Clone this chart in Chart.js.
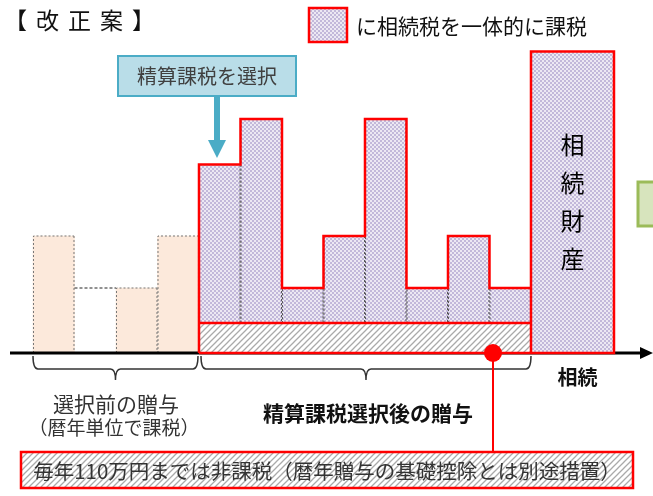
<!DOCTYPE html>
<html>
<head>
<meta charset="utf-8">
<script src="https://cdn.jsdelivr.net/npm/chart.js@4.4.1/dist/chart.umd.min.js"></script>
<style>
  html, body { margin: 0; padding: 0; background: #fff; }
  #wrap { position: relative; width: 653px; height: 496px; }
</style>
</head>
<body>
<div id="wrap"><canvas id="scheme"></canvas></div>
<script>
// values (arbitrary height units)
const preGifts = [9, 0, 5, 9];                      // 選択前の贈与（暦年）
const postGifts = [14.5, 18, 5, 9, 18, 5, 9, 5];    // 精算課税選択後の贈与
const estateValue = 23.2;                           // 相続財産
const exemption = 2.3;                              // 毎年110万円の非課税枠

const preStart = 0, postStart = preGifts.length, estateStart = postStart + postGifts.length;
const estateSpan = 2;

const FONT = '"Noto Sans CJK JP", "Noto Sans", sans-serif';

// patterns
function checker() {
  const c = document.createElement('canvas');
  c.width = 4; c.height = 4;
  const g = c.getContext('2d');
  g.fillStyle = '#ece8f3'; g.fillRect(0, 0, 4, 4);
  g.fillStyle = '#c2b8da'; g.fillRect(0, 0, 2, 2); g.fillRect(2, 2, 2, 2);
  return g.createPattern(c, 'repeat');
}
function hatch() {
  const c = document.createElement('canvas');
  c.width = 6; c.height = 6;
  const g = c.getContext('2d');
  g.fillStyle = '#fff'; g.fillRect(0, 0, 6, 6);
  g.strokeStyle = '#aaaaaa'; g.lineWidth = 1.3;
  g.beginPath();
  g.moveTo(-1, 7); g.lineTo(7, -1);
  g.moveTo(-1, 1); g.lineTo(1, -1);
  g.moveTo(5, 7); g.lineTo(7, 5);
  g.stroke();
  return g.createPattern(c, 'repeat');
}
const purple = checker();
const stripes = hatch();

// outline of the jointly taxed area
const outline = [{x: postStart, y: 0}];
postGifts.forEach((v, i) => {
  outline.push({x: postStart + i, y: v}, {x: postStart + i + 1, y: v});
});
outline.push({x: estateStart, y: estateValue}, {x: estateStart + estateSpan, y: estateValue},
  {x: estateStart + estateSpan, y: 0}, {x: postStart, y: 0}, {x: postStart, y: null},
  {x: postStart, y: exemption}, {x: estateStart, y: exemption}, {x: estateStart, y: null},
  {x: estateStart, y: 0}, {x: estateStart, y: postGifts[postGifts.length - 1]});

// dashed level where no gift was made
const gapLine = [];
preGifts.forEach((v, i) => {
  if (v === 0) {
    const lvl = preGifts[i + 1];
    gapLine.push({x: preStart + i, y: lvl}, {x: preStart + i + 1, y: lvl}, {x: preStart + i + 1, y: null});
  }
});

const barOpts = {type: 'bar', grouped: false, barPercentage: 1, categoryPercentage: 1, borderWidth: 0};

const datasets = [
  {type: 'line', data: outline, borderColor: '#ff0000', borderWidth: 2.5, pointRadius: 0,
   borderJoinStyle: 'miter', tension: 0, spanGaps: false},
  {type: 'line', data: gapLine, borderColor: '#222', borderWidth: 1, borderDash: [3, 2],
   pointRadius: 0, spanGaps: false},
  Object.assign({}, barOpts, {data: postGifts.map((v, i) => ({x: postStart + i + 0.5, y: [exemption, v]})),
   backgroundColor: purple}),
  Object.assign({}, barOpts, {data: Array.from({length: estateSpan}, (_, i) => ({x: estateStart + i + 0.5, y: [0, estateValue]})),
   backgroundColor: purple}),
  Object.assign({}, barOpts, {data: postGifts.map((v, i) => ({x: postStart + i + 0.5, y: [0, exemption]})),
   backgroundColor: stripes}),
  Object.assign({}, barOpts, {data: preGifts.map((v, i) => ({x: preStart + i + 0.5, y: v})),
   backgroundColor: '#fce9db'})
];
const POST_IDX = 2, PRE_IDX = 5;

function dashedEdges(ctx, el, color, top) {
  const l = el.x - el.width / 2, r = el.x + el.width / 2;
  ctx.save();
  ctx.strokeStyle = color; ctx.lineWidth = 1; ctx.setLineDash([2, 2]);
  ctx.beginPath();
  ctx.moveTo(l + 0.5, el.base); ctx.lineTo(l + 0.5, el.y);
  if (top) ctx.lineTo(r - 0.5, el.y);
  ctx.moveTo(r - 0.5, el.y); ctx.lineTo(r - 0.5, el.base);
  ctx.stroke();
  ctx.restore();
}

function brace(ctx, x1, x2, y0, y1, tip) {
  const xm = (x1 + x2) / 2, r = 5;
  ctx.beginPath();
  ctx.moveTo(x1, y0);
  ctx.quadraticCurveTo(x1, y1, x1 + r, y1);
  ctx.lineTo(xm - r, y1);
  ctx.quadraticCurveTo(xm, y1, xm, tip);
  ctx.quadraticCurveTo(xm, y1, xm + r, y1);
  ctx.lineTo(x2 - r, y1);
  ctx.quadraticCurveTo(x2, y1, x2, y0);
  ctx.stroke();
}

function text(ctx, s, x, y, size, opts) {
  opts = opts || {};
  ctx.font = (opts.bold ? 'bold ' : '') + size + 'px ' + FONT;
  ctx.fillStyle = opts.color || '#222';
  ctx.textAlign = opts.align || 'center';
  ctx.textBaseline = 'middle';
  ctx.fillText(s, x, y);
}

function drawAxis(chart) {
  const {ctx, scales: {y}} = chart;
  const y0 = y.getPixelForValue(0);
  ctx.save();
  ctx.strokeStyle = '#000'; ctx.lineWidth = 3;
  ctx.beginPath(); ctx.moveTo(10, y0); ctx.lineTo(643, y0); ctx.stroke();
  ctx.fillStyle = '#000';
  ctx.beginPath(); ctx.moveTo(653, y0); ctx.lineTo(640, y0 - 6); ctx.lineTo(640, y0 + 6); ctx.closePath(); ctx.fill();
  ctx.restore();
}

const diagram = {
  id: 'diagram',
  afterDatasetDraw(chart, args) {
    const meta = chart.getDatasetMeta(args.index);
    const ctx = chart.ctx;
    if (args.index === PRE_IDX) {
      meta.data.forEach((el, i) => { if (preGifts[i] > 0) dashedEdges(ctx, el, '#777', true); });
      drawAxis(chart);
    }
    if (args.index === POST_IDX) {
      meta.data.forEach(el => dashedEdges(ctx, el, '#555', false));
    }
  },
  afterDatasetsDraw(chart) {
    const {ctx, scales: {x, y}} = chart;
    const y0 = y.getPixelForValue(0);
    ctx.save();

    // title
    ['【', '改', '正', '案', '】'].forEach((c, i) => text(ctx, c, 4 + i * 32, 20, 23, {align: 'left', color: '#111'}));

    // legend swatch
    ctx.fillStyle = purple; ctx.fillRect(309, 8, 38, 34);
    ctx.strokeStyle = '#ff0000'; ctx.lineWidth = 2.5; ctx.strokeRect(309, 8, 38, 34);
    text(ctx, 'に相続税を一体的に課税', 356, 26, 21, {align: 'left', color: '#111'});

    // callout
    ctx.fillStyle = '#b9dde8'; ctx.fillRect(118, 56, 178, 40);
    ctx.strokeStyle = '#4bacc6'; ctx.lineWidth = 2; ctx.strokeRect(118, 56, 178, 40);
    text(ctx, '精算課税を選択', 207, 76, 20, {color: '#404040'});
    ctx.fillStyle = '#4bacc6';
    ctx.fillRect(214, 97, 6, 44);
    ctx.beginPath(); ctx.moveTo(208, 140); ctx.lineTo(226, 140); ctx.lineTo(217, 158); ctx.closePath(); ctx.fill();

    // 相続財産
    const ex = (x.getPixelForValue(estateStart) + x.getPixelForValue(estateStart + estateSpan)) / 2;
    ['相', '続', '財', '産'].forEach((c, i) => text(ctx, c, ex, 145 + i * 38, 24, {color: '#000'}));

    // green box at edge
    ctx.fillStyle = '#d7e4bd'; ctx.fillRect(638, 182, 30, 44);
    ctx.strokeStyle = '#9bbb59'; ctx.lineWidth = 3; ctx.strokeRect(638, 182, 30, 44);

    // braces
    ctx.strokeStyle = '#333'; ctx.lineWidth = 1.5;
    const bl = x.getPixelForValue(preStart), bm = x.getPixelForValue(postStart), br = x.getPixelForValue(estateStart);
    brace(ctx, bl, bm - 1, y0 + 3, y0 + 16, y0 + 27);
    brace(ctx, bm + 2, br, y0 + 3, y0 + 16, y0 + 27);

    // labels
    text(ctx, '選択前の贈与', (bl + bm) / 2, 404, 21, {color: '#333'});
    text(ctx, '（暦年単位で課税）', (bl + bm) / 2 - 2, 428, 19, {color: '#333'});
    text(ctx, '精算課税選択後の贈与', (bm + br) / 2 + 3, 413, 21, {bold: true, color: '#111'});
    text(ctx, '相続', ex + 5, 377, 20, {bold: true, color: '#111'});

    // exemption note with pointer
    const dx = 493;
    ctx.strokeStyle = '#ff0000'; ctx.lineWidth = 2;
    ctx.beginPath(); ctx.moveTo(dx, y0); ctx.lineTo(dx, 452); ctx.stroke();
    ctx.fillStyle = '#ff0000';
    ctx.beginPath(); ctx.arc(dx, y0, 9, 0, Math.PI * 2); ctx.fill();
    ctx.fillStyle = stripes; ctx.fillRect(21, 452, 612, 36);
    ctx.strokeStyle = '#ff0000'; ctx.lineWidth = 2.5; ctx.strokeRect(21, 452, 612, 36);
    text(ctx, '毎年110万円までは非課税（暦年贈与の基礎控除とは別途措置）', 327, 471, 20.5, {color: '#333'});

    ctx.restore();
  }
};

new Chart(document.getElementById('scheme'), {
  type: 'bar',
  data: {datasets: datasets},
  options: {
    responsive: true,
    maintainAspectRatio: false,
    animation: false,
    layout: {padding: 0},
    plugins: {legend: {display: false}, tooltip: {enabled: false}},
    scales: {
      x: {type: 'linear', min: -0.795, max: 14.94, display: false, afterBuildTicks: s => { s.ticks = []; }},
      y: {min: -11, max: 27.154, display: false, afterBuildTicks: s => { s.ticks = []; }}
    }
  },
  plugins: [diagram]
});
</script>
</body>
</html>
